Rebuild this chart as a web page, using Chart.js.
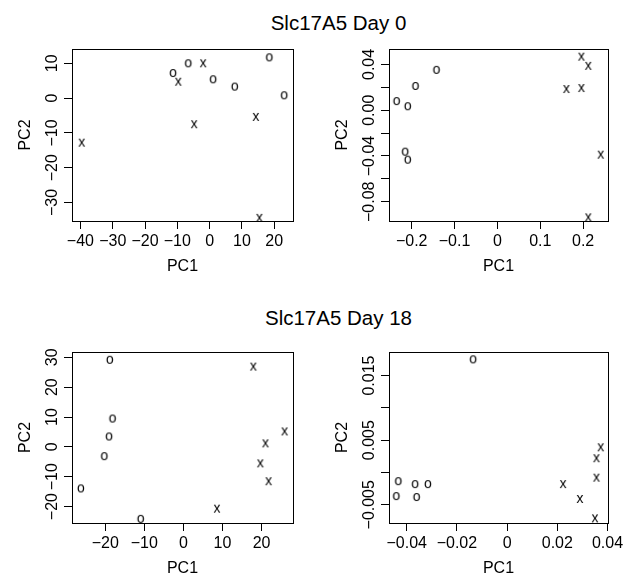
<!DOCTYPE html>
<html>
<head>
<meta charset="utf-8">
<title>Slc17A5 PCA</title>
<script src="https://cdn.jsdelivr.net/npm/chart.js@4.4.1/dist/chart.umd.min.js"></script>
<style>
  body { margin: 0; background: #fff; }
  #wrap { position: relative; width: 631px; height: 574px; overflow: hidden; background: #fff; }
  #wrap canvas { position: absolute; left: 0; top: 0; }
  .main-title {
    position: absolute;
    font: 20.5px 'Liberation Sans', Arial, sans-serif;
    line-height: 24px;
    color: #000;
    white-space: nowrap;
    transform: translateX(-50%);
  }
</style>
</head>
<body>
<div id="wrap">
  <div class="main-title" style="left:338.5px; top:11px;">Slc17A5 Day 0</div>
  <div class="main-title" style="left:338.5px; top:306px;">Slc17A5 Day 18</div>
  <canvas id="day0-raw" width="631" height="574"></canvas>
  <canvas id="day0-norm" width="631" height="574"></canvas>
  <canvas id="day18-raw" width="631" height="574"></canvas>
  <canvas id="day18-norm" width="631" height="574"></canvas>
</div>
<script>
const FONT = "'Liberation Sans', Arial, sans-serif";
const MINUS = '\u2212';

// Day 0, left panel: [PC1, PC2]
const day0RawO = [[-11.3, 7.2], [-6.6, 10.0], [1.1, 5.4], [7.8, 3.3], [18.5, 11.7], [23.1, 0.8]];
const day0RawX = [[-39.6, -12.8], [-9.7, 4.7], [-2.0, 10.0], [-4.8, -7.5], [14.3, -5.4], [15.4, -34.4]];
const day0RawXTicks = [-40, -30, -20, -10, 0, 10, 20];
const day0RawXLabels = ['−40', '−30', '−20', '−10', '0', '10', '20'];
const day0RawYTicks = [-30, -20, -10, 0, 10];
const day0RawYLabels = ['−30', '−20', '−10', '0', '10'];

// Day 0, right panel
const day0NormO = [[-0.235, 0.008], [-0.209, 0.0035], [-0.191, 0.0212], [-0.142, 0.0353], [-0.215, -0.0362], [-0.209, -0.0432]];
const day0NormX = [[0.161, 0.0185], [0.196, 0.0194], [0.196, 0.0468], [0.212, 0.0388], [0.241, -0.0388], [0.212, -0.0936]];
const day0NormXTicks = [-0.2, -0.1, 0, 0.1, 0.2];
const day0NormXLabels = ['−0.2', '−0.1', '0', '0.1', '0.2'];
const day0NormYTicks = [-0.08, -0.06, -0.04, -0.02, 0, 0.02, 0.04];
const day0NormYLabels = ['−0.08', '', '−0.04', '', '0.00', '', '0.04'];

// Day 18, left panel
const day18RawO = [[-18.8, 29.2], [-18.1, 9.5], [-19.0, 3.5], [-20.2, -3.1], [-26.2, -13.9], [-10.9, -24.1]];
const day18RawX = [[17.9, 26.9], [25.9, 5.2], [21.0, 1.2], [19.7, -5.5], [21.8, -11.5], [8.6, -20.7]];
const day18RawXTicks = [-20, -10, 0, 10, 20];
const day18RawXLabels = ['−20', '−10', '0', '10', '20'];
const day18RawYTicks = [-20, -10, 0, 10, 20, 30];
const day18RawYLabels = ['−20', '−10', '0', '10', '20', '30'];

// Day 18, right panel
const day18NormO = [[-0.0135, 0.0175], [-0.0433, -0.00135], [-0.0441, -0.00366], [-0.0366, -0.0018], [-0.036, -0.0038], [-0.0315, -0.0018]];
const day18NormX = [[0.0373, 0.0039], [0.0356, 0.0022], [0.0356, -0.0008], [0.0223, -0.0018], [0.029, -0.0041], [0.035, -0.0071]];
const day18NormXTicks = [-0.04, -0.02, 0, 0.02, 0.04];
const day18NormXLabels = ['−0.04', '−0.02', '0', '0.02', '0.04'];
const day18NormYTicks = [-0.005, 0, 0.005, 0.01, 0.015];
const day18NormYLabels = ['−0.005', '', '0.005', '', '0.015'];

const PAGE_W = 631, PAGE_H = 574;
const Y_AXIS_W = 72;     // room left of each box
const X_AXIS_H = 50;     // room under each box
const TICK_LEN = 8;
const LABEL_SIZE = 16;

// the plotting symbols are the letters o and x, like pch = "o" / "x"
function glyph(ch, size) {
  const c = document.createElement('canvas');
  c.width = 20; c.height = 20;
  const g = c.getContext('2d');
  g.font = size + 'px ' + FONT;
  g.fillStyle = '#000';
  const m = g.measureText(ch);
  const w = m.actualBoundingBoxLeft + m.actualBoundingBoxRight;
  g.fillText(ch, 10 - w / 2 + m.actualBoundingBoxLeft,
             10 + (m.actualBoundingBoxAscent - m.actualBoundingBoxDescent) / 2);
  return c;
}
const oSym = glyph('o', 14);
const xSym = glyph('x', 14);

function widest(labels) {
  const g = document.createElement('canvas').getContext('2d');
  g.font = 'normal ' + LABEL_SIZE + 'px ' + FONT;
  return Math.max(...labels.map(l => g.measureText(l).width));
}

function align(v) {
  return Math.round(v - 0.5) + 0.5;
}

const boxPlugin = {
  id: 'box',
  afterDraw(chart) {
    const {ctx, chartArea: a} = chart;
    ctx.save();
    ctx.strokeStyle = '#000';
    ctx.lineWidth = 1;
    const l = align(a.left), t = align(a.top), r = align(a.right), b = align(a.bottom);
    ctx.strokeRect(l, t, r - l, b - t);
    ctx.restore();
  }
};

function panel(id, box, xr, yr, xTicks, xLabels, yTicks, yLabels, oPts, xPts) {
  const font = {family: FONT, size: LABEL_SIZE};
  const grid = {drawOnChartArea: false, drawTicks: true, tickLength: TICK_LEN, color: '#000', lineWidth: 1};
  const yPad = 19 - TICK_LEN - widest(yLabels) / 2;

  new Chart(document.getElementById(id), {
    type: 'scatter',
    data: {
      datasets: [
        {data: oPts.map(p => ({x: p[0], y: p[1]})), pointStyle: oSym, pointRadius: 4, clip: false},
        {data: xPts.map(p => ({x: p[0], y: p[1]})), pointStyle: xSym, pointRadius: 4, clip: false}
      ]
    },
    options: {
      responsive: false,
      animation: false,
      events: [],
      layout: {
        padding: {
          left: box.left - Y_AXIS_W,
          top: box.top,
          right: PAGE_W - box.right,
          bottom: PAGE_H - box.bottom - X_AXIS_H
        }
      },
      plugins: {legend: {display: false}, tooltip: {enabled: false}},
      scales: {
        x: {
          type: 'linear', position: 'bottom', min: xr[0], max: xr[1],
          afterBuildTicks: s => { s.ticks = xTicks.map(v => ({value: v})); },
          afterFit: s => { s.height = X_AXIS_H; },
          grid: grid,
          border: {display: false},
          ticks: {autoSkip: false, minRotation: 0, maxRotation: 0, padding: 3.4, color: '#000', font: font,
                  callback: (v, i) => xLabels[i]},
          title: {display: true, text: 'PC1', color: '#000', font: font, padding: {top: 0, bottom: -5.1}}
        },
        y: {
          type: 'linear', position: 'left', min: yr[0], max: yr[1],
          afterBuildTicks: s => { s.ticks = yTicks.map(v => ({value: v})); },
          afterFit: s => { s.width = Y_AXIS_W; },
          grid: grid,
          border: {display: false},
          ticks: {autoSkip: false, minRotation: 90, maxRotation: 90, crossAlign: 'center', padding: yPad,
                  color: '#000', font: font, callback: (v, i) => yLabels[i]},
          title: {display: true, text: 'PC2', color: '#000', font: font, padding: {top: 16.4, bottom: 0}}
        }
      }
    },
    plugins: [boxPlugin]
  });
}

panel('day0-raw', {left: 72, top: 49, right: 293, bottom: 221},
      [-42.6, 25.8], [-35.3, 14.1],
      day0RawXTicks, day0RawXLabels, day0RawYTicks, day0RawYLabels, day0RawO, day0RawX);

panel('day0-norm', {left: 389, top: 49, right: 608, bottom: 221},
      [-0.253, 0.258], [-0.0968, 0.0535],
      day0NormXTicks, day0NormXLabels, day0NormYTicks, day0NormYLabels, day0NormO, day0NormX);

panel('day18-raw', {left: 72, top: 352, right: 293, bottom: 523},
      [-28.5, 28.05], [-25.5, 31.8],
      day18RawXTicks, day18RawXLabels, day18RawYTicks, day18RawYLabels, day18RawO, day18RawX);

panel('day18-norm', {left: 389, top: 352, right: 608, bottom: 523},
      [-0.04705, 0.0402], [-0.00782, 0.01864],
      day18NormXTicks, day18NormXLabels, day18NormYTicks, day18NormYLabels, day18NormO, day18NormX);
</script>
</body>
</html>
